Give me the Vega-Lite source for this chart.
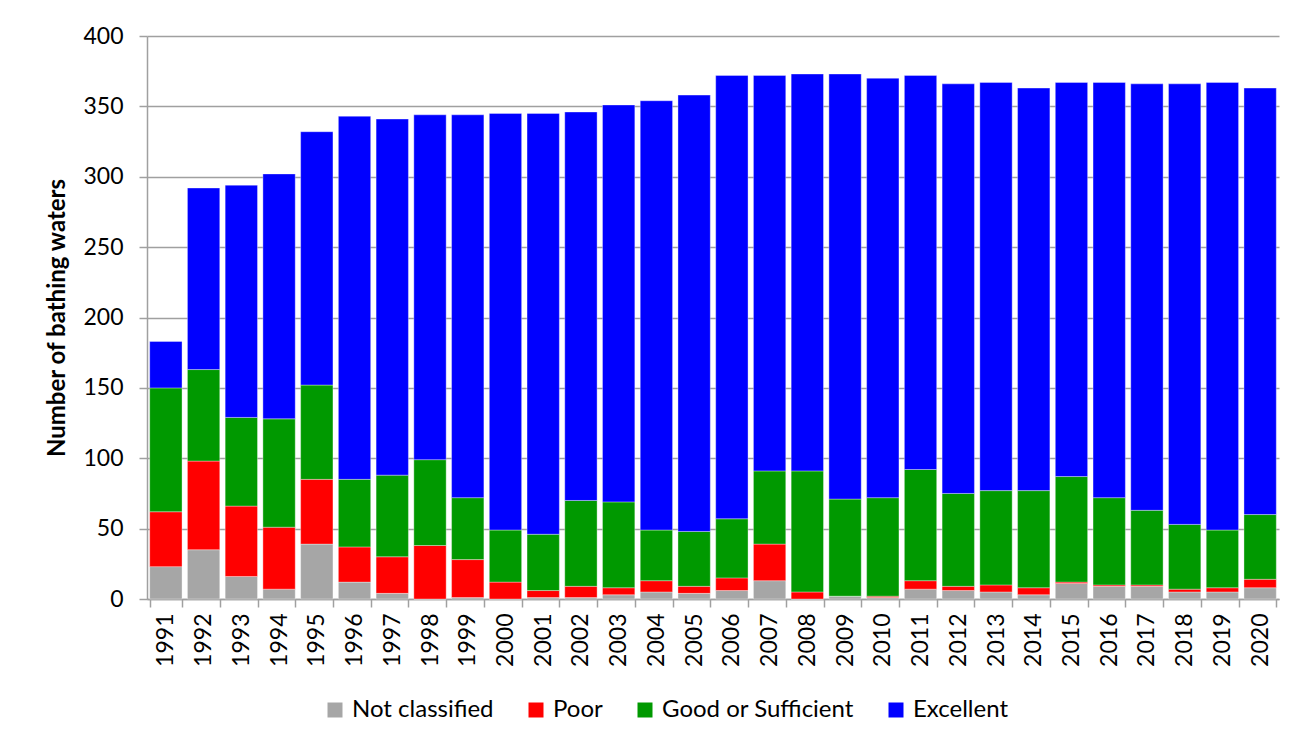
{
  "$schema": "https://vega.github.io/schema/vega-lite/v6.json",
  "width": 1132,
  "height": 563,
  "autosize": {"type": "none"},
  "padding": {"left": 147, "top": 36, "right": 30, "bottom": 147},
  "background": "white",
  "config": {"font": "Lato", "view": {"stroke": null}},
  "data": {
    "values": [
      {"year": "1991", "Not classified": 23, "Poor": 39, "Good or Sufficient": 88, "Excellent": 33},
      {"year": "1992", "Not classified": 35, "Poor": 63, "Good or Sufficient": 65, "Excellent": 129},
      {"year": "1993", "Not classified": 16, "Poor": 50, "Good or Sufficient": 63, "Excellent": 165},
      {"year": "1994", "Not classified": 7, "Poor": 44, "Good or Sufficient": 77, "Excellent": 174},
      {"year": "1995", "Not classified": 39, "Poor": 46, "Good or Sufficient": 67, "Excellent": 180},
      {"year": "1996", "Not classified": 12, "Poor": 25, "Good or Sufficient": 48, "Excellent": 258},
      {"year": "1997", "Not classified": 4, "Poor": 26, "Good or Sufficient": 58, "Excellent": 253},
      {"year": "1998", "Not classified": 0, "Poor": 38, "Good or Sufficient": 61, "Excellent": 245},
      {"year": "1999", "Not classified": 1, "Poor": 27, "Good or Sufficient": 44, "Excellent": 272},
      {"year": "2000", "Not classified": 0, "Poor": 12, "Good or Sufficient": 37, "Excellent": 296},
      {"year": "2001", "Not classified": 1, "Poor": 5, "Good or Sufficient": 40, "Excellent": 299},
      {"year": "2002", "Not classified": 1, "Poor": 8, "Good or Sufficient": 61, "Excellent": 276},
      {"year": "2003", "Not classified": 3, "Poor": 5, "Good or Sufficient": 61, "Excellent": 282},
      {"year": "2004", "Not classified": 5, "Poor": 8, "Good or Sufficient": 36, "Excellent": 305},
      {"year": "2005", "Not classified": 4, "Poor": 5, "Good or Sufficient": 39, "Excellent": 310},
      {"year": "2006", "Not classified": 6, "Poor": 9, "Good or Sufficient": 42, "Excellent": 315},
      {"year": "2007", "Not classified": 13, "Poor": 26, "Good or Sufficient": 52, "Excellent": 281},
      {"year": "2008", "Not classified": 0, "Poor": 5, "Good or Sufficient": 86, "Excellent": 282},
      {"year": "2009", "Not classified": 2, "Poor": 0, "Good or Sufficient": 69, "Excellent": 302},
      {"year": "2010", "Not classified": 1, "Poor": 1, "Good or Sufficient": 70, "Excellent": 298},
      {"year": "2011", "Not classified": 7, "Poor": 6, "Good or Sufficient": 79, "Excellent": 280},
      {"year": "2012", "Not classified": 6, "Poor": 3, "Good or Sufficient": 66, "Excellent": 291},
      {"year": "2013", "Not classified": 5, "Poor": 5, "Good or Sufficient": 67, "Excellent": 290},
      {"year": "2014", "Not classified": 3, "Poor": 5, "Good or Sufficient": 69, "Excellent": 286},
      {"year": "2015", "Not classified": 11, "Poor": 1, "Good or Sufficient": 75, "Excellent": 280},
      {"year": "2016", "Not classified": 9, "Poor": 1, "Good or Sufficient": 62, "Excellent": 295},
      {"year": "2017", "Not classified": 9, "Poor": 1, "Good or Sufficient": 53, "Excellent": 303},
      {"year": "2018", "Not classified": 5, "Poor": 2, "Good or Sufficient": 46, "Excellent": 313},
      {"year": "2019", "Not classified": 5, "Poor": 3, "Good or Sufficient": 41, "Excellent": 318},
      {"year": "2020", "Not classified": 8, "Poor": 6, "Good or Sufficient": 46, "Excellent": 303}
    ]
  },
  "transform": [
    {"fold": ["Not classified", "Poor", "Good or Sufficient", "Excellent"], "as": ["category", "count"]},
    {"window": [{"op": "row_number", "as": "stackRank"}], "groupby": ["year"]}
  ],
  "mark": {"type": "bar", "stroke": "white", "strokeOpacity": 0.35, "strokeWidth": 1},
  "encoding": {
    "x": {
      "field": "year",
      "type": "ordinal",
      "scale": {"paddingInner": 0.143, "paddingOuter": 0.0715},
      "axis": {
        "title": null,
        "labelAngle": -90,
        "labelFontSize": 23,
        "labelColor": "black",
        "labelPadding": 6,
        "tickBand": "extent",
        "tickSize": 8,
        "tickColor": "#a0a0a0",
        "tickWidth": 1.5,
        "domainColor": "#a0a0a0",
        "domainWidth": 1.5
      }
    },
    "y": {
      "field": "count",
      "type": "quantitative",
      "stack": "zero",
      "scale": {"domain": [0, 400]},
      "axis": {
        "title": "Number of bathing waters",
        "titleFontSize": 24,
        "titleFontWeight": "bold",
        "titleColor": "black",
        "titlePadding": 13,
        "values": [0, 50, 100, 150, 200, 250, 300, 350, 400],
        "labelFontSize": 23,
        "labelColor": "black",
        "labelPadding": 16,
        "tickSize": 8,
        "tickColor": "#a0a0a0",
        "tickWidth": 1.5,
        "domainColor": "#a0a0a0",
        "domainWidth": 1.5,
        "grid": true,
        "gridColor": "#a0a0a0",
        "gridWidth": 1.5
      }
    },
    "order": {"field": "stackRank", "type": "quantitative", "sort": "ascending"},
    "color": {
      "field": "category",
      "type": "nominal",
      "sort": ["Not classified", "Poor", "Good or Sufficient", "Excellent"],
      "scale": {
        "domain": ["Not classified", "Poor", "Good or Sufficient", "Excellent"],
        "range": ["#a6a6a6", "#ff0000", "#009900", "#0000ff"]
      },
      "legend": {
        "title": null,
        "orient": "none",
        "direction": "horizontal",
        "legendX": 176,
        "legendY": 662,
        "symbolType": "square",
        "symbolSize": 225,
        "symbolStrokeWidth": 0,
        "symbolOpacity": 1,
        "labelFontSize": 24,
        "labelLimit": 0,
        "labelColor": "black",
        "labelOffset": 5,
        "columnPadding": 30
      }
    }
  }
}
